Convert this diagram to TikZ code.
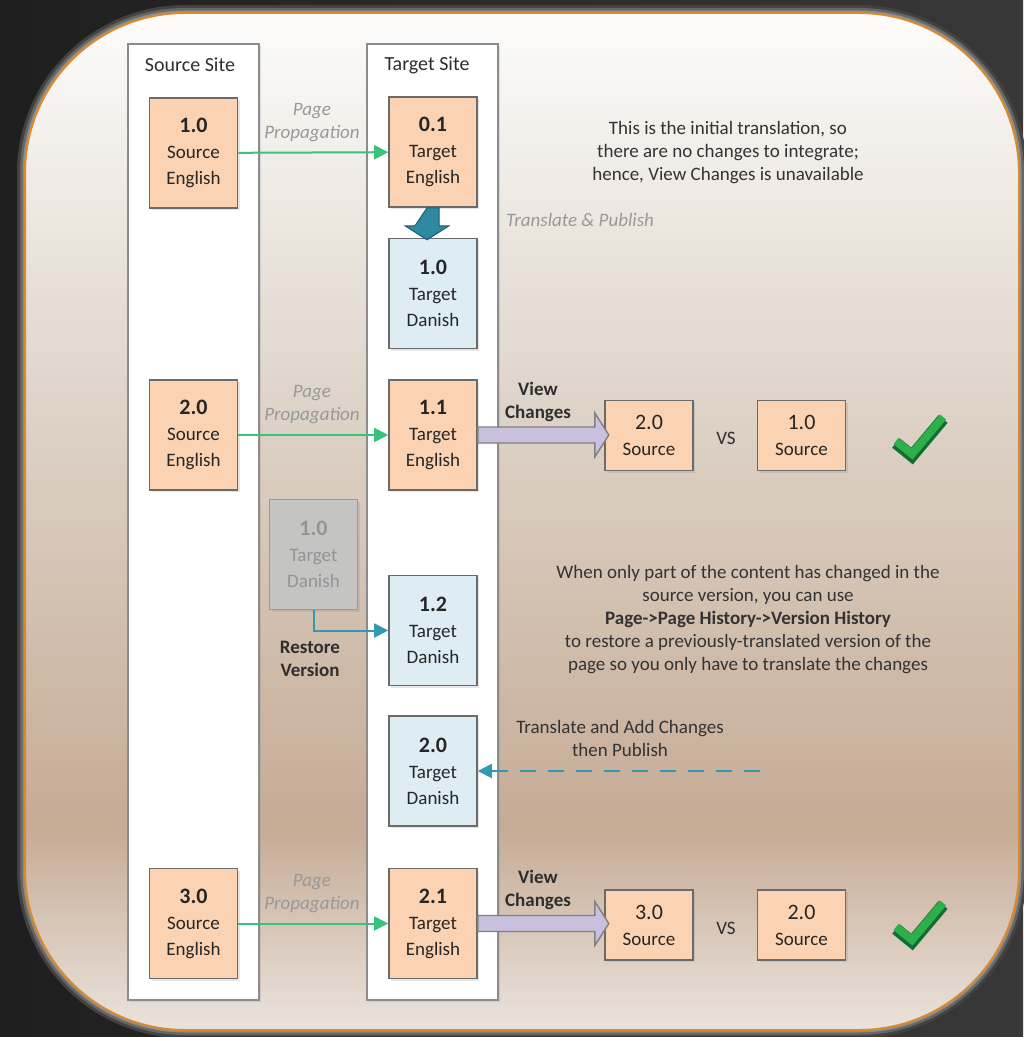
\documentclass[tikz,border=0pt]{standalone}
\usepackage{fontspec}
\setmainfont{Carlito}
\usetikzlibrary{arrows.meta,shadows}
\definecolor{boxorange}{HTML}{FBD3B2}
\definecolor{boxblue}{HTML}{DDEDF3}
\definecolor{boxgrey}{HTML}{C4C4C2}
\definecolor{lineteal}{HTML}{3399B3}
\definecolor{linegreen}{HTML}{38C27A}
\definecolor{arrowpurple}{HTML}{C9C0DD}
\definecolor{inktext}{HTML}{2E2E2E}
\definecolor{panelrim}{HTML}{D98A2C}
\definecolor{paneltop}{HTML}{FDFCFB}
\definecolor{panelmid}{HTML}{DED4C9}
\definecolor{paneldeep}{HTML}{C6AB95}
\definecolor{panelbot}{HTML}{EAE3DC}
\definecolor{tickgreen}{HTML}{2DAF4A}
\definecolor{tickdark}{HTML}{136B35}
\pgfdeclareverticalshading{panelshade}{100bp}{color(0bp)=(panelbot); color(25bp)=(panelbot); color(35bp)=(paneldeep); color(56bp)=(panelmid); color(75bp)=(paneltop); color(100bp)=(paneltop)}
% path pieces
\def\panelpath{(25,500) [rounded corners=80pt] -- (25,13) -- (1019,13) -- (1019,1030) -- (25,1030) -- cycle}
\def\dropshape{-- ++(12,0) -- ++(0,18) -- ++(10,0) -- ++(-22,14) -- ++(-22,-14) -- ++(10,0) -- cycle}
\def\viewshape{-- ++(117,0) -- ++(0,-14) -- ++(14,22) -- ++(-14,22) -- ++(0,-14) -- ++(-117,0) -- cycle}
\def\tickpiece{-- ++(16,13) -- ++(31,-37)}
\newcommand\verbox[3]{{\fontsize{11}{13}\selectfont\bfseries #1}\\#2\\#3}
\newcommand\cmpbox[1]{{\fontsize{11}{15}\selectfont #1}\\Source}

\begin{document}
\begin{tikzpicture}[x=0.5pt,y=-0.5pt,
    every node/.style={font=\fontsize{9.5}{11.5}\selectfont, text=inktext},
    site/.style={draw=black!45, line width=1pt, fill=white, minimum width=65.5pt, minimum height=478pt,
        drop shadow={shadow xshift=1pt,shadow yshift=-1pt,opacity=.2}},
    ver/.style={draw=black!58, line width=0.8pt, minimum width=44pt, minimum height=55pt, inner sep=0pt,
        align=center, font=\fontsize{9.5}{13}\selectfont, text=black!85,
        drop shadow={shadow xshift=1pt,shadow yshift=-1pt,opacity=.2}},
    eng/.style={ver, fill=boxorange},
    dan/.style={ver, fill=boxblue},
    old/.style={ver, fill=boxgrey, draw=black!40, text=black!42},
    cmp/.style={ver, fill=boxorange, minimum height=35pt},
    prop/.style={align=center, font=\fontsize{9.5}{11.5}\selectfont\itshape, text=black!40},
    note/.style={align=center, text=black!80},
    bold/.style={align=center, font=\fontsize{9.5}{11.5}\selectfont\bfseries},
    greenflow/.style={draw=linegreen, line width=1pt, -{Triangle[length=7pt,width=7pt]}},
    tealflow/.style={draw=lineteal, line width=1pt, -{Triangle[length=7pt,width=7pt]}},
    tickshadow/.style={draw=tickdark, line width=6pt, line join=miter},
    tickface/.style={draw=tickgreen, line width=4pt, line join=miter}]
\useasboundingbox (0,0) rectangle (1023,1037);
% backdrop and panel
\shade[left color=black!88, right color=black!78] (0,0) rectangle (1023,1037);
\draw[line width=8pt, draw=black!74] \panelpath;
\draw[line width=5pt, draw=black!60] \panelpath;
\draw[line width=2.5pt, draw=black!45] \panelpath;
\shade[shading=panelshade, draw=panelrim, line width=1pt] \panelpath;

% sites
\node[site] (srcsite) at (193.5,522) {};
\node[site] (tgtsite) at (432.5,522) {};
\node at (190,65) {\fontsize{10}{12}\selectfont Source Site};
\node at (427,65) {\fontsize{10}{12}\selectfont Target Site};

% versions
\node[eng] (se1) at (193.5,153) {\verbox{1.0}{Source}{English}};
\node[eng] (se2) at (193.5,435) {\verbox{2.0}{Source}{English}};
\node[eng] (se3) at (193.5,923.5) {\verbox{3.0}{Source}{English}};
\node[eng] (te1) at (433,152) {\verbox{0.1}{Target}{English}};
\node[dan] (td1) at (433,293.5) {\verbox{1.0}{Target}{Danish}};
\node[eng] (te2) at (433,435) {\verbox{1.1}{Target}{English}};
\node[old] (tdold) at (313.5,554.5) {\verbox{1.0}{Target}{Danish}};
\node[dan] (td2) at (433,630.5) {\verbox{1.2}{Target}{Danish}};
\node[dan] (td3) at (433,771) {\verbox{2.0}{Target}{Danish}};
\node[eng] (te3) at (433,923.5) {\verbox{2.1}{Target}{English}};

% compare
\node[cmp] (cs1) at (649,435.5) {\cmpbox{2.0}};
\node[cmp] (cs2) at (801.5,435.5) {\cmpbox{1.0}};
\node[cmp] (cs3) at (649,925) {\cmpbox{3.0}};
\node[cmp] (cs4) at (801.5,925) {\cmpbox{2.0}};
\node at (726,438) {VS};
\node at (726,928) {VS};

% flows
\draw[greenflow] (se1) -- (te1);
\draw[greenflow] (se2) -- (te2);
\draw[greenflow] (se3) -- (te3);
\node[prop] at (312,122.5) {Page\\Propagation};
\node[prop] at (312,405) {Page\\Propagation};
\node[prop] at (312,894) {Page\\Propagation};
\fill[lineteal!90!black, draw=lineteal!60!black, line width=0.5pt] ([xshift=-3pt]te1.south) \dropshape;
\node[prop] at (580,220) {Translate \& Publish};
\filldraw[fill=arrowpurple, draw=black!50, line width=0.7pt] ([yshift=4pt]te2.east) \viewshape;
\filldraw[fill=arrowpurple, draw=black!50, line width=0.7pt] ([yshift=4pt]te3.east) \viewshape;
\node[bold] at (538,401.5) {View\\Changes};
\node[bold] at (538,889.5) {View\\Changes};
\draw[tealflow] (tdold.south) |- (td2.west);
\node[bold] at (310,658.5) {Restore\\Version};
\coordinate (dashstart) at (760,771);
\draw[tealflow, dash pattern=on 8pt off 6pt] (dashstart) -- (td3.east);
\node[note] at (620,738.5) {Translate and Add Changes\\then Publish};

% notes
\node[note] at (728,153) {This is the initial translation, so\\there are no changes to integrate;\\hence, View Changes is unavailable};
\node[note] at (748,619.5) {When only part of the content has changed in the\\source version, you can use\\\textbf{Page->Page History->Version History}\\to restore a previously-translated version of the\\page so you only have to translate the changes};

% ticks
\draw[tickshadow] (896,443) \tickpiece;
\draw[tickface] (896,441) \tickpiece;
\draw[tickshadow] (896,929) \tickpiece;
\draw[tickface] (896,927) \tickpiece;
\end{tikzpicture}
\end{document}
